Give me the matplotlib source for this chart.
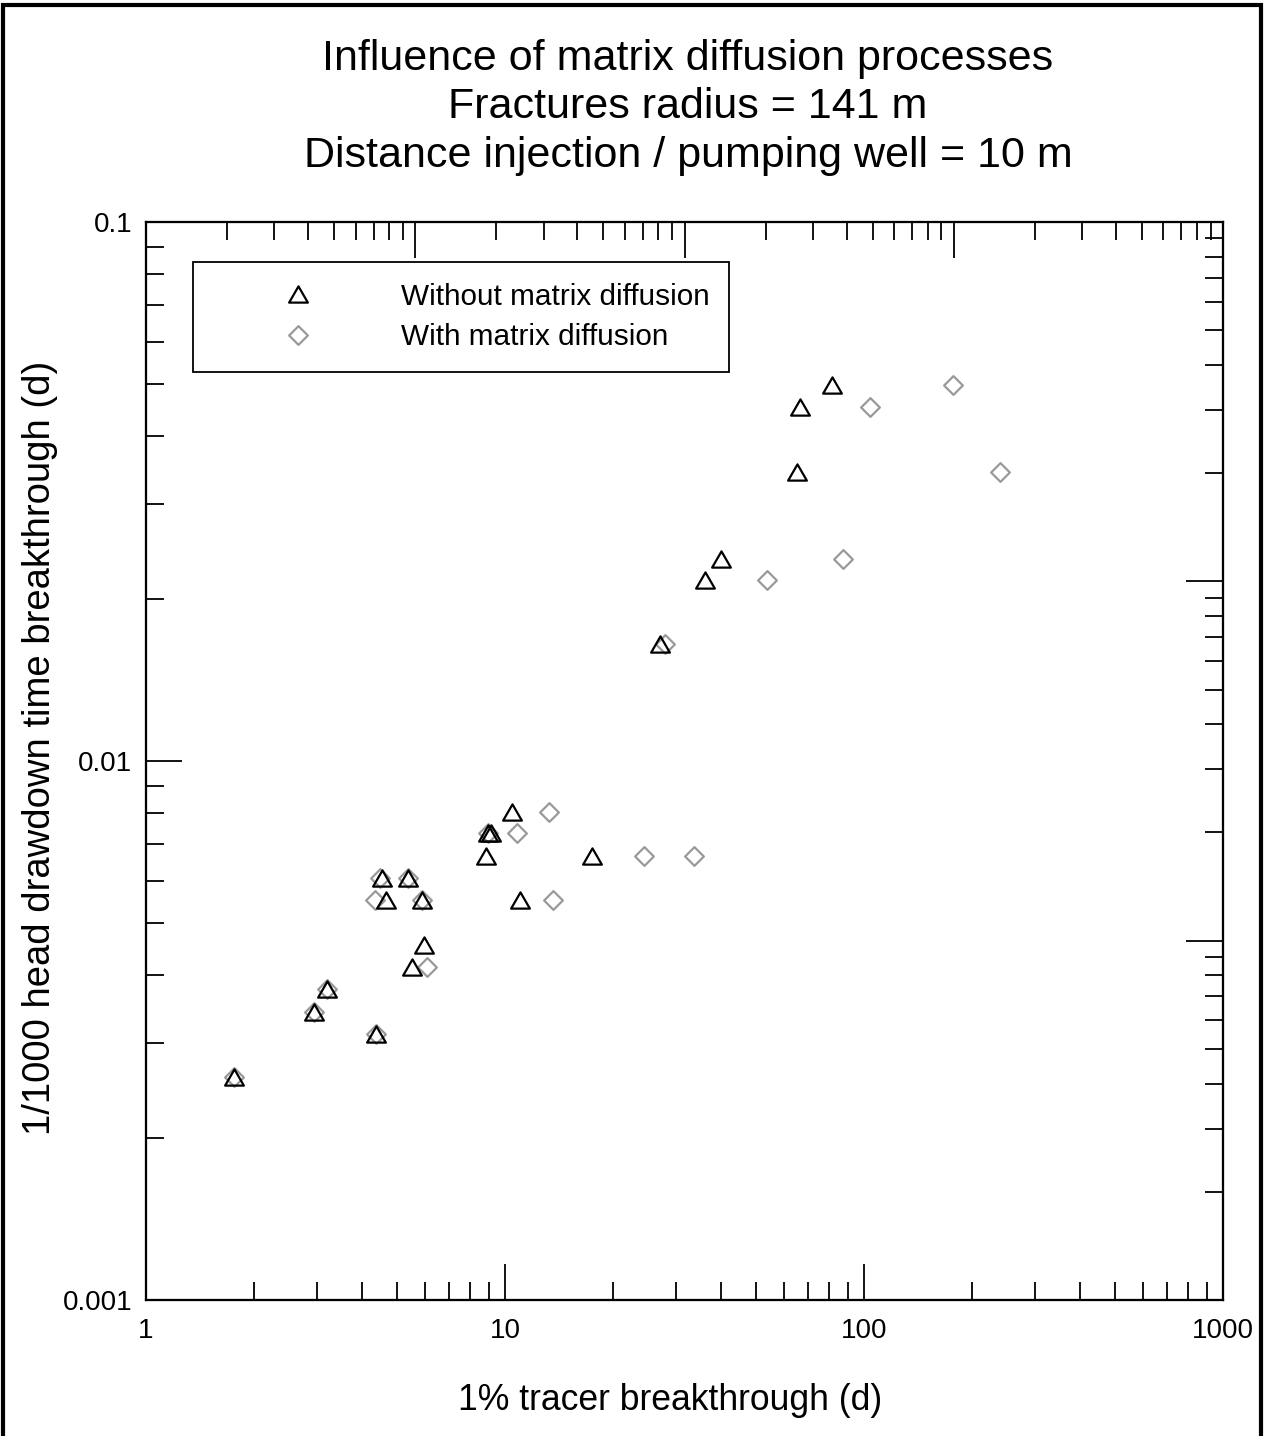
import matplotlib
matplotlib.use('Agg')
import matplotlib.pyplot as plt
import numpy as np
from matplotlib.patches import Rectangle
from matplotlib.path import Path
from matplotlib.ticker import LogLocator, FuncFormatter, NullFormatter

plt.rcParams['font.family'] = ['Liberation Sans', 'DejaVu Sans']

# tracer breakthrough (d) vs 1/1000 head drawdown time (d)
without_x = [1.76, 2.94, 3.19, 4.37, 4.54, 5.37, 4.66, 5.87, 11.0, 5.93, 5.49,
             8.83, 17.5, 8.99, 9.14, 10.46, 27.0, 36.0, 39.9, 65.1, 66.3, 81.3]
without_y = [0.00259, 0.00342, 0.00378, 0.00311, 0.00607, 0.00607, 0.00552, 0.00552,
             0.00552, 0.00456, 0.00415, 0.00667, 0.00667, 0.00735, 0.00735, 0.00804,
             0.01648, 0.02168, 0.0237, 0.0344, 0.0454, 0.0498]

with_x = [1.76, 2.94, 3.19, 4.37, 4.49, 5.37, 4.34, 5.87, 13.6, 6.06, 24.4,
          33.6, 8.97, 10.8, 13.27, 27.9, 53.6, 87.2, 239, 104, 177]
with_y = [0.00259, 0.00342, 0.00378, 0.00311, 0.00607, 0.00607, 0.00552, 0.00552,
          0.00552, 0.00415, 0.00667, 0.00667, 0.00735, 0.00735, 0.00804, 0.0165,
          0.0217, 0.0237, 0.0344, 0.0454, 0.0498]

title_lines = ['Influence of matrix diffusion processes',
               'Fractures radius = 141 m',
               'Distance injection / pumping well = 10 m']

W, H = 1265, 1436
fig = plt.figure(figsize=(W / 100, H / 100), dpi=100)
ax = fig.add_axes([146 / W, 1 - 1300 / H, (1223 - 146) / W, (1300 - 222) / H])

# closed marker outlines: equilateral triangle and diamond
tri = Path([(-1, -0.866), (1, -0.866), (0, 0.866), (0, 0)],
           [Path.MOVETO, Path.LINETO, Path.LINETO, Path.CLOSEPOLY])
dia = Path([(0, 1), (1, 0), (0, -1), (-1, 0), (0, 0)],
           [Path.MOVETO, Path.LINETO, Path.LINETO, Path.LINETO, Path.CLOSEPOLY])

ax.plot(with_x, with_y, linestyle='none', marker=dia, markersize=13.5,
        mfc='none', mec='#999999', mew=1.6, label='With matrix diffusion', zorder=3)
ax.plot(without_x, without_y, linestyle='none', marker=tri, markersize=13.5,
        mfc='none', mec='black', mew=1.6, label='Without matrix diffusion', zorder=4)

ax.set_xscale('log')
ax.set_yscale('log')
ax.set_xlim(1, 1000)
ax.set_ylim(0.001, 0.1)

fmt = FuncFormatter(lambda v, p: f'{v:g}')
ax.xaxis.set_major_formatter(fmt)
ax.yaxis.set_major_formatter(fmt)
ax.xaxis.set_minor_formatter(NullFormatter())
ax.yaxis.set_minor_formatter(NullFormatter())
ax.xaxis.set_minor_locator(LogLocator(base=10, subs=np.arange(2, 10)))
ax.yaxis.set_minor_locator(LogLocator(base=10, subs=np.arange(2, 10)))
ax.tick_params(which='both', direction='in', width=1.3, labelsize=20,
               top=False, right=False)
ax.tick_params(which='major', length=26)
ax.tick_params(which='minor', length=13)
ax.tick_params(axis='x', pad=13)
ax.tick_params(axis='y', pad=10)
for s in ax.spines.values():
    s.set_linewidth(1.5)

# extra log scales on top and right
ax_top = ax.twiny()
ax_top.set_xscale('log')
ax_top.set_xlim(1, 10000)
ax_top.xaxis.set_minor_locator(LogLocator(base=10, subs=np.arange(2, 10)))
ax_top.tick_params(which='both', direction='in', width=1.3, labeltop=False)
ax_top.tick_params(which='major', length=26)
ax_top.tick_params(which='minor', length=13)

ax_right = ax.twinx()
ax_right.set_yscale('log')
ax_right.set_ylim(0.001, 1)
ax_right.yaxis.set_minor_locator(LogLocator(base=10, subs=np.arange(2, 10)))
ax_right.tick_params(which='both', direction='in', width=1.3, labelright=False)
ax_right.tick_params(which='major', length=27)
ax_right.tick_params(which='minor', length=13)
for a in (ax_top, ax_right):
    for s in a.spines.values():
        s.set_linewidth(1.5)

handles, labels = ax.get_legend_handles_labels()
leg = ax.legend(handles[::-1], labels[::-1], loc='upper left',
                bbox_to_anchor=((193 - 146) / 1077, 0, (729 - 193) / 1077, (1300 - 262) / 1078),
                mode='expand', borderaxespad=0, fontsize=21.4, numpoints=1,
                borderpad=0.7, handlelength=5.66, handletextpad=0.64,
                labelspacing=0.42, fancybox=False, framealpha=1, edgecolor='black')
leg.get_frame().set_linewidth(1.3)
leg.set_zorder(10)

for line, yb in zip(title_lines, [70, 118, 167]):
    fig.text(688 / W, 1 - yb / H, line, ha='center', va='baseline', fontsize=31)

fig.text(670 / W, 1 - 1410 / H, '1% tracer breakthrough (d)', ha='center',
         va='baseline', fontsize=25.6)
fig.text(40 / W, 1 - 748 / H, '1/1000 head drawdown time breakthrough (d)',
         ha='center', va='center', rotation=90, fontsize=27.5)

fig.patches.append(Rectangle((3 / W, -0.01), (1261 - 3) / W, 1.01 - 5 / H,
                             transform=fig.transFigure, fill=False,
                             edgecolor='black', linewidth=3))

fig.savefig('out.png', dpi=100)
